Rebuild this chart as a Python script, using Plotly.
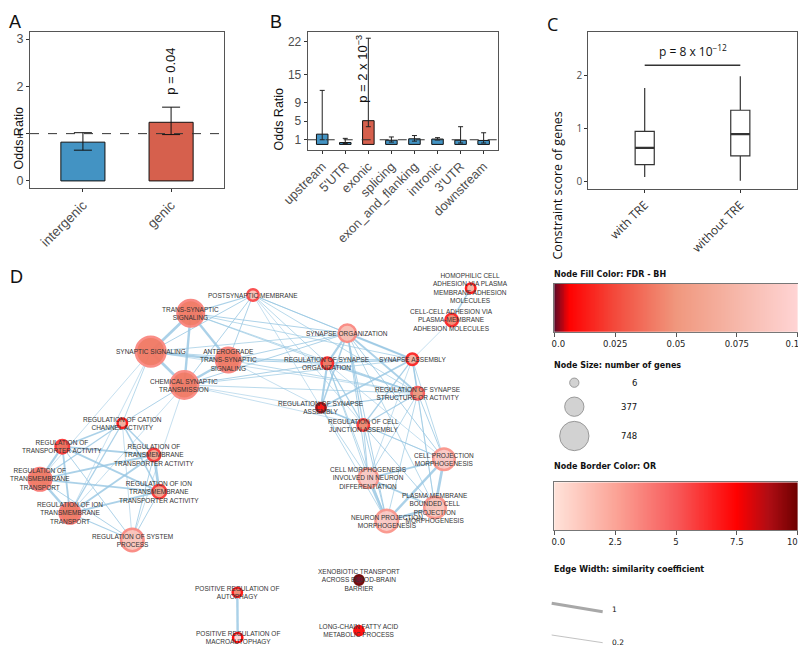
import plotly.graph_objects as go
import numpy as np

W, H = 798, 646

# ---------------- Panel A data ----------------
a_cats = ["intergenic", "genic"]
a_or = [0.82, 1.24]
a_lo = [0.65, 0.98]
a_hi = [1.02, 1.56]
a_colors = ["#4393C3", "#D6604D"]

# ---------------- Panel B data ----------------
b_cats = ["upstream", "5'UTR", "exonic", "splicing", "exon_and_flanking",
          "intronic", "3'UTR", "downstream"]
b_or = [2.2, 0.4, 5.1, 0.9, 1.2, 1.15, 0.9, 0.85]
b_lo = [1.0, 0.2, 3.8, 0.5, 0.7, 0.95, 0.3, 0.3]
b_hi = [11.6, 1.3, 22.8, 1.6, 1.9, 1.45, 3.8, 2.5]
b_colors = ["#4393C3", "#4393C3", "#D6604D", "#4393C3", "#4393C3",
            "#4393C3", "#4393C3", "#4393C3"]

# ---------------- Panel C data ----------------
c_cats = ["with TRE", "without TRE"]
c_low = [0.09, 0.02]
c_q1 = [0.325, 0.49]
c_med = [0.64, 0.90]
c_q3 = [0.95, 1.35]
c_high = [1.77, 1.99]

# ---------------- Panel D data (enrichment map) ----------------
node_labels = [
    "POSTSYNAPTIC MEMBRANE",
    "TRANS-SYNAPTIC<br>SIGNALING",
    "SYNAPTIC SIGNALING",
    "ANTEROGRADE<br>TRANS-SYNAPTIC<br>SIGNALING",
    "CHEMICAL SYNAPTIC<br>TRANSMISSION",
    "REGULATION OF CATION<br>CHANNEL ACTIVITY",
    "REGULATION OF<br>TRANSPORTER ACTIVITY",
    "REGULATION OF<br>TRANSMEMBRANE<br>TRANSPORTER ACTIVITY",
    "REGULATION OF<br>TRANSMEMBRANE<br>TRANSPORT",
    "REGULATION OF ION<br>TRANSMEMBRANE<br>TRANSPORTER ACTIVITY",
    "REGULATION OF ION<br>TRANSMEMBRANE<br>TRANSPORT",
    "REGULATION OF SYSTEM<br>PROCESS",
    "SYNAPSE ORGANIZATION",
    "REGULATION OF SYNAPSE<br>ORGANIZATION",
    "SYNAPSE ASSEMBLY",
    "REGULATION OF SYNAPSE<br>STRUCTURE OR ACTIVITY",
    "REGULATION OF SYNAPSE<br>ASSEMBLY",
    "REGULATION OF CELL<br>JUNCTION ASSEMBLY",
    "CELL-CELL ADHESION VIA<br>PLASMA-MEMBRANE<br>ADHESION MOLECULES",
    "HOMOPHILIC CELL<br>ADHESION VIA PLASMA<br>MEMBRANE ADHESION<br>MOLECULES",
    "CELL PROJECTION<br>MORPHOGENESIS",
    "CELL MORPHOGENESIS<br>INVOLVED IN NEURON<br>DIFFERENTIATION",
    "PLASMA MEMBRANE<br>BOUNDED CELL<br>PROJECTION<br>MORPHOGENESIS",
    "NEURON PROJECTION<br>MORPHOGENESIS",
    "POSITIVE REGULATION OF<br>AUTOPHAGY",
    "POSITIVE REGULATION OF<br>MACROAUTOPHAGY",
    "XENOBIOTIC TRANSPORT<br>ACROSS BLOOD-BRAIN<br>BARRIER",
    "LONG-CHAIN FATTY ACID<br>METABOLIC PROCESS",
]
# layout coordinates of the network (layout units)
node_x = [253, 190.7, 150.7, 228.3, 184.3, 122.3, 62.3, 154, 40, 159.3, 70, 132.3,
          347.3, 327.3, 412.3, 417.7, 321, 363.3, 451.7, 470.7,
          444, 368.3, 435, 386.7, 237.3, 237.7, 359, 359]
node_y = [295, 313.3, 351.7, 360, 385, 423.3, 446.7, 455, 479.3, 491.7, 513.3, 540,
          333.3, 363.3, 359.3, 393.3, 407.7, 425, 320, 288.3,
          459.3, 478.3, 507.5, 521, 592.3, 637.7, 580, 630.7]
node_genes = [87, 643, 760, 569, 680, 13, 162, 125, 495, 162, 421, 495,
              310, 87, 87, 125, 6, 87, 125, 13,
              458, 384, 458, 495, 6, 6, 6, 6]
node_fdr = [0.082, 0.040, 0.040, 0.040, 0.040, 0.068, 0.036, 0.058, 0.040, 0.058, 0.040, 0.085,
            0.080, 0.040, 0.070, 0.050, 0.010, 0.045, 0.045, 0.070,
            0.090, 0.090, 0.085, 0.090, 0.045, 0.100, 0.001, 0.008]
node_or = [5.5, 3.6, 3.4, 3.6, 3.4, 7.0, 6.0, 6.0, 4.0, 6.0, 4.0, 3.4,
           3.4, 6.5, 6.5, 5.0, 9.3, 6.0, 6.5, 7.0,
           3.0, 3.0, 3.0, 3.0, 7.0, 7.5, 10.0, 7.5]

edge_src = [1, 1, 1, 2, 2, 3, 0, 0, 0, 0,
            0, 0, 0, 0, 0, 0, 1, 1, 1, 1, 2, 2, 2,
            3, 3, 3, 3, 3, 4, 4, 4, 4, 4, 4,
            2, 4, 2, 4, 4, 2,
            5, 5, 5, 5, 5, 5, 6, 6, 6, 6, 6, 7, 7, 7, 7, 8, 8, 8, 9, 9, 10,
            12, 12, 12, 12, 12, 13, 13, 13, 13, 14, 14, 14, 15, 15, 16,
            14, 18,
            12, 12, 12, 12, 13, 13, 13, 14, 14, 14, 15, 15, 15, 15, 16, 16, 16,
            17, 17, 17, 17,
            20, 20, 20, 21, 21, 22,
            24]
edge_dst = [2, 3, 4, 3, 4, 4, 1, 2, 3, 4,
            12, 13, 14, 15, 16, 17, 12, 13, 14, 15, 12, 13, 15,
            12, 13, 14, 15, 16, 12, 13, 14, 15, 16, 17,
            5, 5, 10, 10, 11, 8,
            6, 7, 8, 9, 10, 11, 7, 8, 9, 10, 11, 8, 9, 10, 11, 9, 10, 11, 10, 11, 11,
            13, 14, 15, 16, 17, 14, 15, 16, 17, 15, 16, 17, 16, 17, 17,
            18, 19,
            20, 21, 22, 23, 21, 23, 20, 20, 22, 21, 20, 22, 23, 21, 21, 23, 20,
            20, 21, 22, 23,
            21, 22, 23, 22, 23, 23,
            25]
edge_sim = [0.9, 0.8, 0.8, 0.8, 0.9, 0.8, 0.4, 0.3, 0.3, 0.3,
            0.3, 0.25, 0.25, 0.25, 0.2, 0.2, 0.3, 0.25, 0.25, 0.25, 0.25, 0.25, 0.2,
            0.3, 0.3, 0.25, 0.25, 0.2, 0.3, 0.3, 0.25, 0.25, 0.2, 0.2,
            0.25, 0.3, 0.2, 0.2, 0.2, 0.2,
            0.5, 0.5, 0.4, 0.5, 0.4, 0.2, 0.6, 0.7, 0.6, 0.6, 0.3, 0.6, 0.9, 0.6, 0.3,
            0.6, 0.8, 0.3, 0.6, 0.3, 0.35,
            0.7, 0.7, 0.6, 0.5, 0.4, 0.5, 0.6, 0.7, 0.4, 0.5, 0.6, 0.4, 0.4, 0.4, 0.5,
            0.2, 0.5,
            0.3, 0.3, 0.25, 0.3, 0.25, 0.25, 0.2, 0.25, 0.2, 0.2, 0.3, 0.25, 0.25, 0.25,
            0.25, 0.25, 0.2,
            0.3, 0.3, 0.3, 0.3,
            0.6, 0.9, 0.8, 0.6, 0.9, 0.9,
            0.8]

legend_gene_counts = [6, 377, 748]
legend_sims = [1, 0.2]
NB = "\u00a0"
fdr_ticks = [0, 0.025, 0.05, 0.075, 0.1]
fdr_ticktext = [NB * 3 + "0.0", "0.025", "0.05", "0.075", "0.1" + NB * 4]
or_ticks = [0, 2.5, 5, 7.5, 10]
or_ticktext = [NB * 3 + "0.0", "2.5", "5", "7.5", "10" + NB * 4]

fdr_scale = [[0, "#5a0a28"], [0.06, "#ff0000"], [0.25, "#f34a3c"],
             [0.5, "#f0977d"], [0.75, "#f6b7a9"], [1, "#ffd4d4"]]
or_scale = [[0, "#ffe3da"], [0.25, "#fba497"], [0.5, "#f75a5a"],
            [0.75, "#ff0000"], [0.88, "#b00d14"], [1, "#6e0000"]]


def node_size(n):
    return 9.3 + 0.027 * (np.asarray(n, dtype=float) - 6)


def edge_width(s):
    return 0.7 + (s - 0.2) * 2.875


def dx(px):
    return px / W


def dy(py):
    return 1 - py / H


FONT = "Liberation Sans"
TICKC = "#4D4D4D"

fig = go.Figure()

# ---- Panel A ----
fig.add_trace(go.Bar(
    x=a_cats, y=a_or, width=0.5,
    marker=dict(color=a_colors, line=dict(color="#111", width=1)),
    error_y=dict(type="data", symmetric=False,
                 array=[h - v for h, v in zip(a_hi, a_or)],
                 arrayminus=[v - l for l, v in zip(a_lo, a_or)],
                 color="#111", thickness=1, width=9),
    xaxis="x", yaxis="y", showlegend=False, hoverinfo="skip"))

# ---- Panel B ----
fig.add_trace(go.Bar(
    x=b_cats, y=b_or, width=0.5,
    marker=dict(color=b_colors, line=dict(color="#111", width=1)),
    error_y=dict(type="data", symmetric=False,
                 array=[h - v for h, v in zip(b_hi, b_or)],
                 arrayminus=[v - l for l, v in zip(b_lo, b_or)],
                 color="#222", thickness=1, width=2.5),
    xaxis="x2", yaxis="y2", showlegend=False, hoverinfo="skip"))

# ---- Panel C ----
fig.add_trace(go.Box(
    x=c_cats, q1=c_q1, median=c_med, q3=c_q3,
    lowerfence=c_low, upperfence=c_high,
    width=0.2, whiskerwidth=0, fillcolor="white",
    line=dict(color="#333", width=1.2),
    xaxis="x3", yaxis="y3", showlegend=False, hoverinfo="skip"))

# ---- Panel D: edges ----
for s, t, w in zip(edge_src, edge_dst, edge_sim):
    fig.add_trace(go.Scatter(
        x=[node_x[s], node_x[t]], y=[node_y[s], node_y[t]], mode="lines",
        line=dict(color="rgba(150,198,226,0.8)", width=edge_width(w)),
        xaxis="x4", yaxis="y4", showlegend=False, hoverinfo="skip"))

# ---- Panel D: nodes ----
fig.add_trace(go.Scatter(
    x=node_x, y=node_y, mode="markers",
    marker=dict(size=node_size(node_genes), color=node_fdr, colorscale=fdr_scale,
                cmin=0, cmax=0.1, opacity=0.95,
                line=dict(color=node_or, colorscale=or_scale, cmin=0, cmax=10, width=2.5)),
    xaxis="x4", yaxis="y4", showlegend=False, hoverinfo="skip"))

# ---- Legend: node size ----
leg_size_y = [382.7, 406.7, 436]
fig.add_trace(go.Scatter(
    x=[574.3] * 3, y=leg_size_y, mode="markers",
    marker=dict(size=node_size(legend_gene_counts), color="#BFBFBF",
                line=dict(color="#555", width=0.8)),
    xaxis="x4", yaxis="y4", showlegend=False, hoverinfo="skip"))

# ---- Legend: edge width ----
leg_edge_y = [(603.3, 611.7), (635, 642.7)]
for sim, (y0, y1) in zip(legend_sims, leg_edge_y):
    fig.add_trace(go.Scatter(
        x=[551.7, 602.7], y=[y0, y1], mode="lines",
        line=dict(color="#A8A8A8", width=edge_width(sim)),
        xaxis="x4", yaxis="y4", showlegend=False, hoverinfo="skip"))

# ---- Legend: colour bars ----
fdr_grid = np.linspace(0, 0.1, 300)
fig.add_trace(go.Heatmap(x=fdr_grid, y=[0], z=[fdr_grid], colorscale=fdr_scale,
                         zmin=0, zmax=0.1, showscale=False, hoverinfo="skip",
                         xaxis="x5", yaxis="y5"))
or_grid = np.linspace(0, 10, 300)
fig.add_trace(go.Heatmap(x=or_grid, y=[0], z=[or_grid], colorscale=or_scale,
                         zmin=0, zmax=10, showscale=False, hoverinfo="skip",
                         xaxis="x6", yaxis="y6"))

# ---------------- layout ----------------
frame = dict(showline=True, mirror=True, linecolor="#555", linewidth=1,
             zeroline=False, showgrid=False, automargin=False)
cbar_x = dict(ticks="outside", ticklen=4, tickcolor="#555",
              tickfont=dict(size=8.5, family="DejaVu Sans", color="#222"),
              showline=True, mirror=True, linecolor="#777", linewidth=1,
              showgrid=False, zeroline=False, automargin=False,
              ticklabeloverflow="allow")
cbar_y = dict(range=[-0.5, 0.5], showticklabels=False, ticks="",
              showline=True, mirror=True, linecolor="#777", linewidth=1,
              showgrid=False, zeroline=False, automargin=False)

layout = dict(
    template="none",
    width=W, height=H, margin=dict(l=0, r=0, t=0, b=0, pad=0, autoexpand=False),
    paper_bgcolor="white", plot_bgcolor="rgba(0,0,0,0)",
    font=dict(family=FONT, color="#222"),
    xaxis=dict(domain=[dx(30), dx(224)], range=[-0.6, 1.6], type="category",
               ticks="outside", ticklen=3, tickcolor="#333", tickangle=-45,
               tickfont=dict(size=13.5, color=TICKC), anchor="y", **frame),
    yaxis=dict(domain=[dy(188), dy(32)], range=[-0.15, 3.15], tickvals=[0, 1, 2, 3],
               ticks="outside", ticklen=3, tickcolor="#333",
               tickfont=dict(size=12.5, color=TICKC), anchor="x", **frame),
    xaxis2=dict(domain=[dx(307.7), dx(497.7)], range=[-0.63, 7.61], type="category",
                ticks="outside", ticklen=3, tickcolor="#333", tickangle=-45,
                tickfont=dict(size=12.8, color=TICKC), anchor="y2", **frame),
    yaxis2=dict(domain=[dy(150), dy(31.7)], range=[-1.2, 24.2], tickvals=[1, 5, 9, 15, 22],
                ticks="outside", ticklen=3, tickcolor="#333",
                tickfont=dict(size=12, color=TICKC), anchor="x2", **frame),
    xaxis3=dict(domain=[dx(588.3), dx(796.7)], range=[-0.59, 1.59], type="category",
                ticks="outside", ticklen=3, tickcolor="#333", tickangle=-45,
                tickfont=dict(size=12, color="#333", family="Open Sans"), anchor="y3", **frame),
    yaxis3=dict(domain=[dy(189.3), dy(31.7)], range=[-0.14, 2.83], tickvals=[0, 1, 2],
                ticks="outside", ticklen=3, tickcolor="#333",
                tickfont=dict(size=10, color=TICKC, family="Open Sans"), anchor="x3", **frame),
    xaxis4=dict(domain=[0, 1], range=[0, W], visible=False, anchor="y4", automargin=False),
    yaxis4=dict(domain=[0, 1], range=[H, 0], visible=False, anchor="x4", automargin=False),
    xaxis5=dict(domain=[dx(554.3), dx(797.7)], range=[0, 0.1], tickvals=fdr_ticks,
                ticktext=fdr_ticktext, anchor="y5", **cbar_x),
    yaxis5=dict(domain=[dy(331.7), dy(284)], anchor="x5", **cbar_y),
    xaxis6=dict(domain=[dx(554.3), dx(797.7)], range=[0, 10], tickvals=or_ticks,
                ticktext=or_ticktext, anchor="y6", **cbar_x),
    yaxis6=dict(domain=[dy(530), dy(482.3)], anchor="x6", **cbar_y),
)
fig.update_layout(**layout)

shapes = [
    dict(type="line", xref="x domain", yref="y", x0=0, x1=1, y0=1, y1=1,
         line=dict(color="#333", width=1, dash="dash")),
    dict(type="line", xref="x2 domain", yref="y2", x0=0, x1=1, y0=1, y1=1,
         line=dict(color="#333", width=1, dash="dash")),
    dict(type="line", xref="x3", yref="y3", x0=0, x1=1, y0=2.2, y1=2.2,
         line=dict(color="#333", width=1.5)),
]
for i, m in enumerate(c_med):
    shapes.append(dict(type="line", xref="x3", yref="y3", x0=i - 0.1, x1=i + 0.1,
                       y0=m, y1=m, line=dict(color="#333", width=2.4)))
fig.update_layout(shapes=shapes)

ann = []


def add_ann(text, x, y, size, xref="paper", yref="paper", **kw):
    d = dict(text=text, x=x, y=y, xref=xref, yref=yref, showarrow=False,
             font=dict(size=size, family=kw.pop("family", FONT), color=kw.pop("color", "#111")))
    d.update(kw)
    ann.append(d)


# panel letters
add_ann("A", dx(7), dy(10), 18)
add_ann("B", dx(276), dy(10), 18)
add_ann("C", dx(560), dy(10), 18, family="Open Sans")
add_ann("D", dx(8), dy(277), 18)

# axis titles
add_ann("Odds Ratio", dx(9), dy(105), 12.5, textangle=-90)
add_ann("Odds Ratio", dx(279), dy(86), 12.5, textangle=-90)
add_ann("Constraint score of genes", dx(567), dy(110), 12.5, textangle=-90, family="Open Sans")

# p-values
add_ann("p = 0.04", "genic", 2.31, 13, xref="x", yref="y", textangle=-90)
add_ann("p = 2 x 10<sup>\u22123</sup>", "exonic", 16.3, 13, xref="x2", yref="y2",
        textangle=-90, xshift=-6)
add_ann("p = 8 x 10<sup>\u221212</sup>", 0.5, 2.47, 12, xref="x3", yref="y3",
        family="Open Sans")

# network labels
for lab, x, y in zip(node_labels, node_x, node_y):
    add_ann(lab, x, y, 6.5, xref="x4", yref="y4", color="#333",
            xanchor="center", yanchor="middle")

# legend titles and labels
LEG = "DejaVu Sans"
add_ann("<b>Node Fill Color: FDR - BH</b>", dx(551.7), dy(274), 8, family=LEG, xanchor="left")
add_ann("<b>Node Size: number of genes</b>", dx(551.7), dy(365), 8, family=LEG, xanchor="left")
add_ann("<b>Node Border Color: OR</b>", dx(551.7), dy(473.3), 8, family=LEG, xanchor="left")
add_ann("<b>Edge Width: similarity coefficient</b>", dx(551.7), dy(575.7), 8, family=LEG,
        xanchor="left")
for n, y in zip(legend_gene_counts, leg_size_y):
    add_ann(str(n), 638.5, y, 8.5, xref="x4", yref="y4", family=LEG, xanchor="right")
add_ann("1", 609.5, 609, 7.5, xref="x4", yref="y4", family=LEG, xanchor="left")
add_ann("0.2", 609.5, 642.5, 7.5, xref="x4", yref="y4", family=LEG, xanchor="left")

fig.update_layout(annotations=ann)

fig.write_html("out.html", config={"displayModeBar": False},
               post_script="document.body.style.margin='0px';document.body.style.padding='0px';")
